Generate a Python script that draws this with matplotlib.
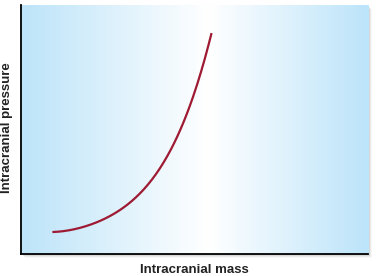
import matplotlib.pyplot as plt
import numpy as np
from matplotlib.colors import LinearSegmentedColormap
from matplotlib.patches import Rectangle

# curve (0-100 on both axes)
mass = [9.5, 17.2, 25.0, 34.5, 43.1, 49.4, 54.9]
pressure = [8.8, 10.7, 14.5, 24.5, 41.8, 61.8, 88.4]

plt.rcParams['font.family'] = ['Liberation Sans', 'DejaVu Sans']

fig = plt.figure(figsize=(3.77, 2.76), dpi=100)
ax = fig.add_axes([20.5/377, 22/276, 347.5/377, 249/276])
ax.set_zorder(2)

# soft drop shadow right/bottom
for i, a in enumerate([0.10, 0.08, 0.05, 0.03]):
    off = (i + 1) / 377
    fig.patches.append(Rectangle((20.5/377 + off, 22/276 - (i + 1)/276), 347.5/377, 249/276,
                                 transform=fig.transFigure, color='black', alpha=a,
                                 zorder=0, linewidth=0))

# background gradient: blue - white - blue
cmap = LinearSegmentedColormap.from_list('bg', [(0, '#bde4f9'), (0.54, '#ffffff'), (1, '#bce4fa')])
grad = np.linspace(0, 1, 400).reshape(1, -1)
ax.imshow(grad, cmap=cmap, extent=[0, 100, 0, 100], aspect='auto', zorder=0)

# smooth the read points
xs = np.linspace(mass[0], mass[-1], 200)
coef = np.polyfit(mass, pressure, 4)
ax.plot(xs, np.polyval(coef, xs), color='#9e1a32', lw=1.6, zorder=2)

ax.set_xlim(0, 100)
ax.set_ylim(0, 100)
ax.set_xticks([])
ax.set_yticks([])
ax.spines['top'].set_visible(False)
ax.spines['right'].set_visible(False)
ax.spines['left'].set_linewidth(1.3)
ax.spines['bottom'].set_linewidth(1.3)

fig.text(194/377, 1 - 270/276, 'Intracranial mass', ha='center', va='center',
         fontsize=9.5, fontweight='bold', color='#222222')
fig.text(7/377, 1 - 128/276, 'Intracranial pressure', ha='center', va='center',
         rotation=90, fontsize=9.5, fontweight='bold', color='#222222')

fig.savefig('out.png', dpi=100)
